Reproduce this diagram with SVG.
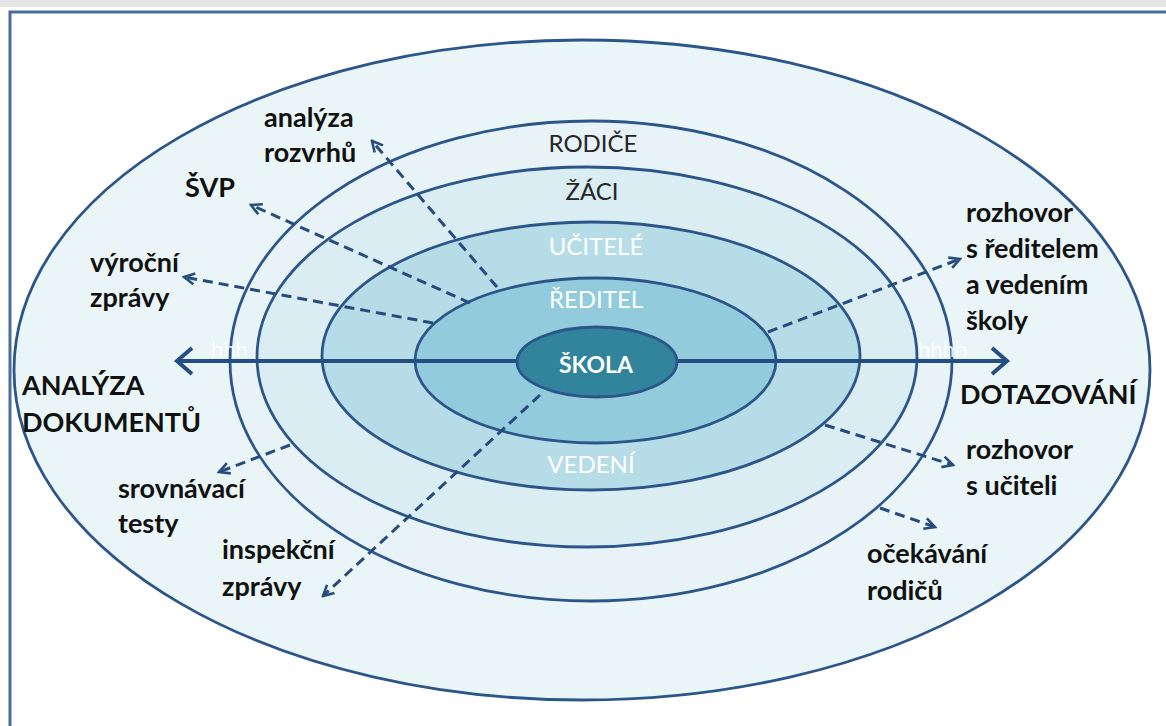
<svg xmlns="http://www.w3.org/2000/svg" width="1166" height="726" viewBox="0 0 1166 726">
<defs>
<style>
.ring{stroke:#2c5589;stroke-width:2.8}
.ax{stroke:#234f85;stroke-width:4;fill:none}
.dash{stroke:#264c7e;stroke-width:3;stroke-dasharray:10 6;fill:none}
.lbl{font-family:Lato,"Open Sans","DejaVu Sans",sans-serif;font-weight:bold;font-size:27px;fill:#111}
.rl{font-family:Lato,"Open Sans","DejaVu Sans",sans-serif;font-size:24px;text-anchor:middle}
.dk{fill:#262626}
.wt{fill:#ffffff}
.hid{font-family:Lato,"Open Sans",sans-serif;font-size:22px;fill:#ffffff;opacity:0.85}
</style>
<marker id="ah" viewBox="0 0 14 14" refX="12" refY="7" markerWidth="14" markerHeight="14" markerUnits="userSpaceOnUse" orient="auto">
<path d="M1.5,1.5 L12,7 L1.5,12.5" fill="none" stroke="#264c7e" stroke-width="2.6"/>
</marker>
</defs>
<rect x="0" y="0" width="1166" height="726" fill="#ffffff"/>
<rect x="0" y="0" width="1166" height="7" fill="#e4e4e4"/>
<path d="M10,726 L10,12 L1166,12" fill="none" stroke="#4a6d9e" stroke-width="3"/>

<g id="outer"><ellipse cx="582" cy="370" rx="568" ry="330" fill="#eaf5f8" class="ring"/></g>
<g id="rodice"><ellipse cx="591" cy="361" rx="361" ry="240" fill="#e8f3f7" class="ring"/>
<text class="rl dk" x="593" y="152">RODIČE</text></g>
<text class="hid" x="211" y="357">hhh</text>
<text class="hid" x="918" y="357">hhhh</text>
<g id="zaci"><ellipse cx="587" cy="357" rx="330" ry="190" fill="#daedf3" class="ring"/>
<text class="rl dk" x="592" y="200">ŽÁCI</text></g>
<g id="ucitele"><ellipse cx="591" cy="356" rx="269" ry="134" fill="#b6dce7" class="ring"/>
<text class="rl wt" x="596" y="255">UČITELÉ</text>
<text class="rl wt" x="591" y="473">VEDENÍ</text></g>
<g id="reditel"><ellipse cx="595.5" cy="360.5" rx="180.5" ry="82.5" fill="#92cbdc" class="ring"/>
<text class="rl wt" x="596" y="308">ŘEDITEL</text></g>

<g id="connectors">
<line class="ax" x1="178" y1="361" x2="1006" y2="361"/>
<path class="ax" d="M192,348 L177,361 L192,374"/>
<path class="ax" d="M992,348 L1007,361 L992,374"/>
<line class="dash" x1="497" y1="287" x2="372" y2="141" marker-end="url(#ah)"/>
<line class="dash" x1="470" y1="303" x2="251" y2="205" marker-end="url(#ah)"/>
<line class="dash" x1="433" y1="323" x2="184" y2="277" marker-end="url(#ah)"/>
<line class="dash" x1="290" y1="445" x2="219" y2="472" marker-end="url(#ah)"/>
<line class="dash" x1="540" y1="395" x2="323" y2="596" marker-end="url(#ah)"/>
<line class="dash" x1="768" y1="332" x2="960" y2="259" marker-end="url(#ah)"/>
<line class="dash" x1="825" y1="425" x2="953" y2="465" marker-end="url(#ah)"/>
<line class="dash" x1="880" y1="508" x2="935" y2="527" marker-end="url(#ah)"/>
</g>

<g id="skola"><ellipse cx="597" cy="362" rx="80" ry="35" fill="#31849b" stroke="#2c5589" stroke-width="2.8"/>
<text x="596" y="373" text-anchor="middle" font-family="Lato, 'Open Sans', sans-serif" font-weight="bold" font-size="23" fill="#ffffff">ŠKOLA</text></g>

<g id="analyza-rozvrhu"><text class="lbl" x="264" y="127">analýza</text><text class="lbl" x="264" y="162">rozvrhů</text></g>
<g id="svp"><text class="lbl" x="185" y="197">ŠVP</text></g>
<g id="vyrocni-zpravy"><text class="lbl" x="90" y="272">výroční</text><text class="lbl" x="90" y="307">zprávy</text></g>
<g id="analyza-dokumentu"><text class="lbl" x="22" y="395">ANALÝZA</text><text class="lbl" x="22" y="432">DOKUMENTŮ</text></g>
<g id="srovnavaci-testy"><text class="lbl" x="118" y="498">srovnávací</text><text class="lbl" x="118" y="533">testy</text></g>
<g id="inspekcni-zpravy"><text class="lbl" x="222" y="559">inspekční</text><text class="lbl" x="222" y="596">zprávy</text></g>
<g id="rozhovor-reditel"><text class="lbl" x="966" y="222">rozhovor</text><text class="lbl" x="966" y="258">s ředitelem</text><text class="lbl" x="966" y="294">a vedením</text><text class="lbl" x="966" y="330">školy</text></g>
<g id="dotazovani"><text class="lbl" x="960" y="404">DOTAZOVÁNÍ</text></g>
<g id="rozhovor-ucitele"><text class="lbl" x="966" y="459">rozhovor</text><text class="lbl" x="966" y="495">s učiteli</text></g>
<g id="ocekavani-rodicu"><text class="lbl" x="867" y="563">očekávání</text><text class="lbl" x="867" y="600">rodičů</text></g>
</svg>
